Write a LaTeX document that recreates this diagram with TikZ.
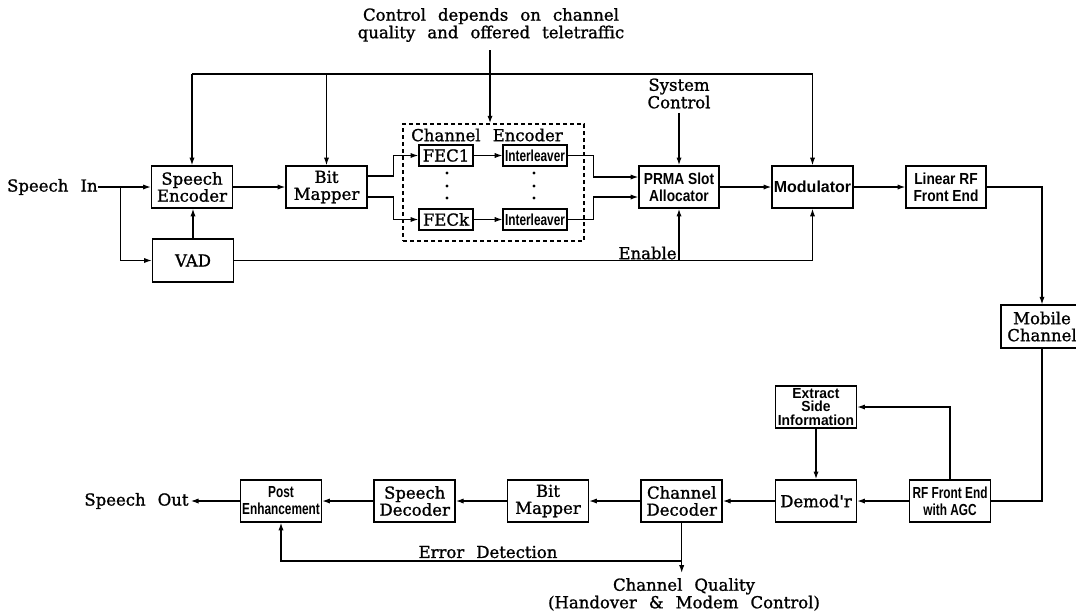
\documentclass[tikz,border=0pt]{standalone}
\usepackage{fontspec}
\usetikzlibrary{arrows.meta}
\newfontfamily\serf[WordSpace=2.3,FakeBold=1.2]{DejaVu Serif}
\newfontfamily\condA[FakeStretch=0.74]{Liberation Sans}
\newfontfamily\condB[FakeStretch=0.86]{Liberation Sans}
\newfontfamily\condC{Liberation Sans}
\newfontfamily\condD[FakeStretch=0.95]{Liberation Sans}
\begin{document}
\begin{tikzpicture}[x=0.5pt,y=-0.5pt,
  >={Latex[length=3.8pt,width=2.6pt]},
  conn/.style={line width=0.55pt},
  blk/.style={draw,line width=0.8pt,inner sep=0pt,align=center,minimum width=40.5pt,minimum height=21pt},
  sbox/.style={blk,font=\serf\fontsize{8.25pt}{8.5pt}\selectfont},
  cabox/.style={blk,font=\condA\bfseries\fontsize{8pt}{8.5pt}\selectfont},
  cbbox/.style={blk,font=\condB\bfseries\fontsize{8pt}{8.5pt}\selectfont},
  ccbox/.style={blk,font=\condC\bfseries\fontsize{8pt}{8.5pt}\selectfont},
  smallbox/.style={minimum width=27pt,minimum height=10.5pt},
  ilbox/.style={minimum width=32pt,minimum height=10.5pt},
  lbl/.style={inner sep=0pt,align=center,font=\serf\fontsize{8.25pt}{8.75pt}\selectfont},
  dbox/.style={draw,line width=0.6pt,dash pattern=on 2pt off 1.5pt,inner sep=0pt,minimum width=90.5pt,minimum height=58.5pt}
]
\useasboundingbox (0,0) rectangle (1076,612);

% ---------- transmitter ----------
\node[sbox] (SE) at (192,187) {Speech\\Encoder};
\node[sbox] (BM1) at (326.5,187) {Bit\\Mapper};
\node[sbox,minimum height=21.5pt] (VAD) at (193,260.5) {VAD};
\node[dbox] (DB) at (493.5,182.5) {};
\node[lbl] (CE) at (487,135) {Channel Encoder};
\node[sbox,smallbox] (F1) at (446,155.5) {FEC1};
\node[sbox,smallbox] (Fk) at (446,219.5) {FECk};
\node[cabox,ilbox] (I1) at (535,155.5) {Interleaver};
\node[cabox,ilbox] (Ik) at (535,219.5) {Interleaver};
\foreach \yy in {173,186,198}{
  \fill (447,\yy) circle[radius=1.6];
  \fill (534,\yy) circle[radius=1.6];
}
\node[cbbox,minimum width=40pt] (PR) at (679,187) {PRMA Slot\\Allocator};
\node[ccbox] (MOD) at (812.5,187) {Modulator};
\node[cbbox,minimum width=40pt] (LRF) at (946,187) {Linear RF\\Front End};
\node[sbox,minimum width=41pt,minimum height=21.3pt] (MC) at (1042,326.5) {Mobile\\Channel};

% ---------- receiver ----------
\node[blk,font=\condD\bfseries\fontsize{7.3pt}{6.9pt}\selectfont] (ESI) at (816,407) {Extract\\Side\\Information};
\node[cabox] (RFA) at (950,501) {RF Front End\\with AGC};
\node[sbox] (DEM) at (816,501) {Demod'r};
\node[sbox] (CD) at (681.7,501) {Channel\\Decoder};
\node[sbox] (BM2) at (548,501) {Bit\\Mapper};
\node[sbox] (SD) at (414.7,501) {Speech\\Decoder};
\node[cabox] (PE) at (281,501) {Post\\Enhancement};

% ---------- labels ----------
\node[lbl,anchor=east] (SIN) at (98,187) {Speech In};
\node[lbl,anchor=west] (SOUT) at (84,501) {Speech Out};
\node[lbl] (CTL) at (491,25) {Control depends on channel\\quality and offered teletraffic};
\node[lbl] (SYS) at (679,93.5) {System\\Control};
\node[lbl,anchor=east] (EN) at (677,253) {Enable};
\node[lbl] (ED) at (488,552) {Error Detection};
\node[lbl] (CQ) at (684,594.5) {Channel Quality\\(Handover \& Modem Control)};

% ---------- connectors: transmitter ----------
\coordinate (br) at (120.7,187);
\coordinate (tl) at (192,74);
\coordinate (tr) at (812.5,74);
\coordinate (cx) at (490,50);
\draw[conn,->] (SIN.east) -- (SE.west);
\draw[conn,->] (br) |- (VAD.west);
\draw[conn,->] (VAD.north) -- (VAD.north |- SE.south);
\draw[conn,->] (SE.east) -- (BM1.west);
\draw[conn] (tl) -- (tr);
\draw[conn,->] (tl) -- (SE.north);
\draw[conn,->] (BM1.north |- tl) -- (BM1.north);
\draw[conn,->] (tr) -- (MOD.north);
\draw[line width=0.8pt,->] (cx) -- (cx |- DB.north);
\draw[conn,->] ([yshift=5.5pt]BM1.east) -- ++(26,0) |- (F1.west);
\draw[conn,->] ([yshift=-5pt]BM1.east) -- ++(26,0) |- (Fk.west);
\draw[line width=0.4pt,->] (F1.east) -- (I1.west);
\draw[line width=0.4pt,->] (Fk.east) -- (Ik.west);
\draw[conn,->] (I1.east) -- ++(26,0) |- ([yshift=5pt]PR.west);
\draw[conn,->] (Ik.east) -- ++(26,0) |- ([yshift=-5pt]PR.west);
\draw[line width=0.7pt,->,shorten <=2pt] (SYS.south) -- (PR.north);
\draw[conn,->] (PR.east) -- (MOD.west);
\draw[conn,->] (MOD.east) -- (LRF.west);
\draw[conn,->] (LRF.east) -| (MC.north);
\draw[conn,->] (VAD.east) -| (MOD.south);
\draw[line width=0.7pt,->] (VAD.east -| PR.south) -- (PR.south);

% ---------- connectors: receiver ----------
\coordinate (edy) at (0,561);
\draw[conn] (MC.south) |- (RFA.east);
\draw[conn,->] (RFA.west) -- (DEM.east);
\draw[conn,->] (RFA.north) |- (ESI.east);
\draw[line width=0.7pt,->] (ESI.south) -- (DEM.north);
\draw[conn,->] (DEM.west) -- (CD.east);
\draw[conn,->] (CD.west) -- (BM2.east);
\draw[conn,->] (BM2.west) -- (SD.east);
\draw[conn,->] (SD.west) -- (PE.east);
\draw[conn,->,shorten >=1pt] (PE.west) -- (SOUT.east);
\draw[conn,->,shorten >=2.5pt] (CD.south) -- (CD.south |- CQ.north);
\draw[conn,->] (CD.south |- edy) -| (PE.south);
\end{tikzpicture}
\end{document}
